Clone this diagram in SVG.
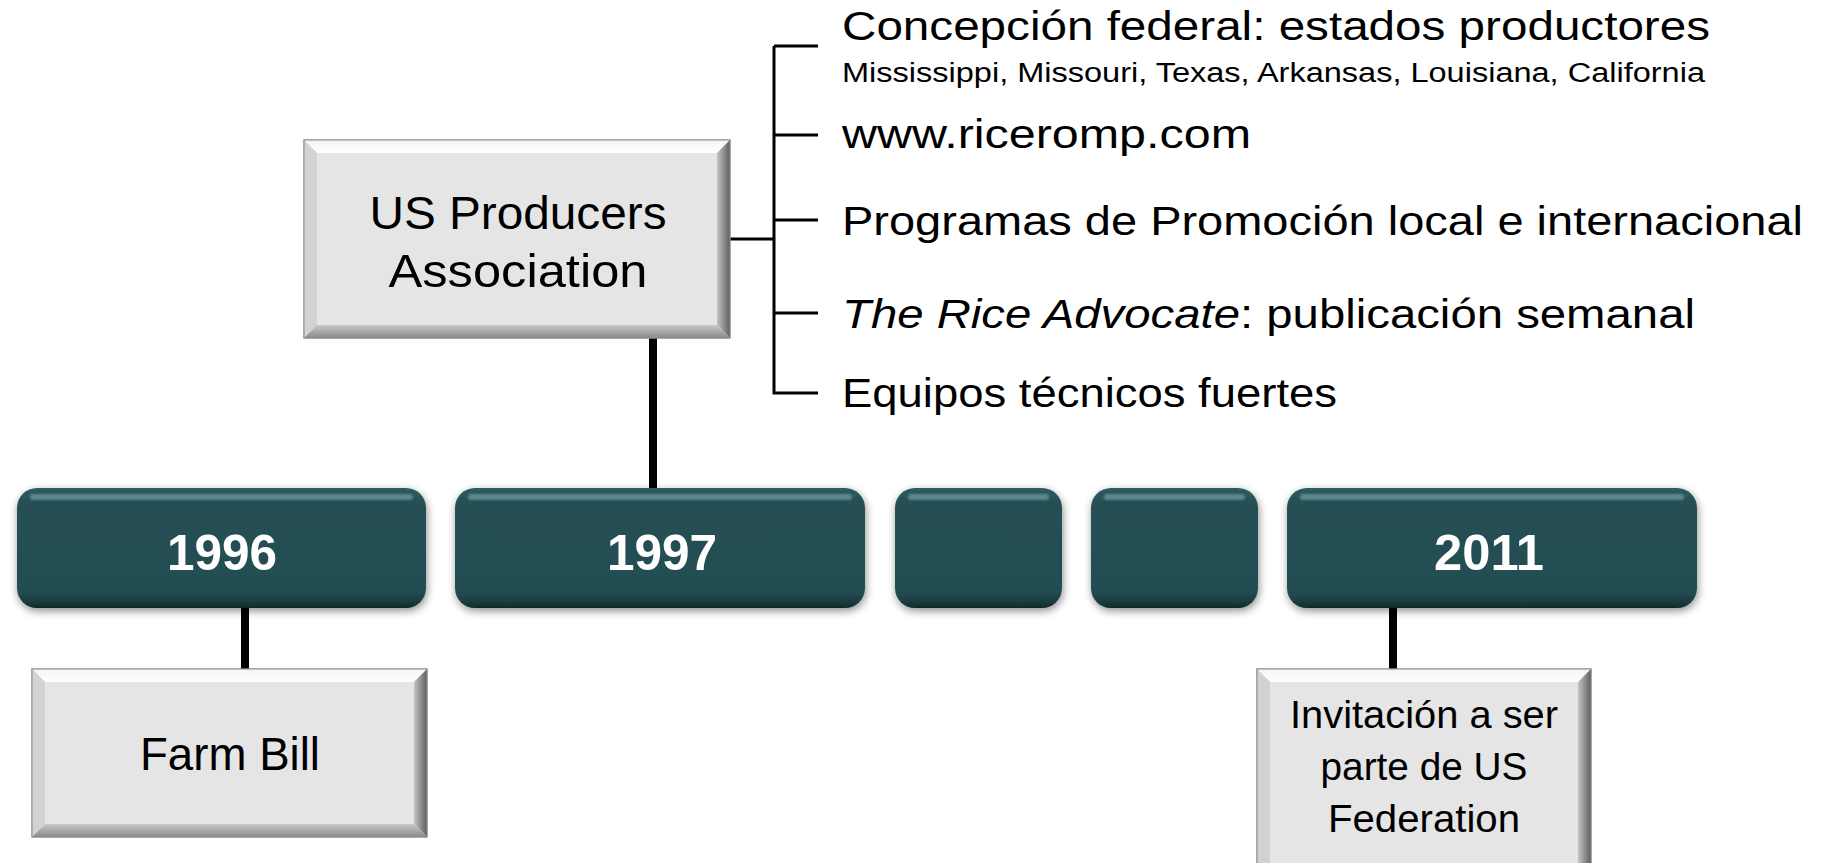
<svg xmlns="http://www.w3.org/2000/svg" width="1825" height="863" viewBox="0 0 1825 863">
<defs>
<style>
.t{font-family:"Liberation Sans",Arial,sans-serif;fill:#000}
.big{font-size:40px}
.small{font-size:27px}
.gb{font-size:47px}
.yr{font-family:"Liberation Sans",Arial,sans-serif;font-weight:bold;font-size:50px;fill:#fff;text-anchor:middle}
.ctr{text-anchor:middle}
.teal{fill:url(#tealG)}
.hl{fill:#6a9ca1;opacity:0.75}
.base{fill:#e5e5e5;stroke:#8c8c8c;stroke-width:1}
.btop{fill:url(#topG)}
.bleft{fill:#d2d2d2}
.bright{fill:url(#rightG)}
.bbot{fill:url(#botG)}
.conn{stroke:#000;stroke-width:8;fill:none}
.br{stroke:#000;stroke-width:3;fill:none}
</style>
<linearGradient id="tealG" x1="0" y1="0" x2="0" y2="1">
<stop offset="0" stop-color="#2f5c61"/>
<stop offset="0.12" stop-color="#254f54"/>
<stop offset="0.86" stop-color="#244e53"/>
<stop offset="0.95" stop-color="#1a3c40"/>
<stop offset="1" stop-color="#0f2729"/>
</linearGradient>
<linearGradient id="topG" x1="0" y1="0" x2="0" y2="1">
<stop offset="0" stop-color="#f4f4f4"/>
<stop offset="1" stop-color="#ffffff"/>
</linearGradient>
<linearGradient id="rightG" x1="0" y1="0" x2="1" y2="0">
<stop offset="0" stop-color="#c4c4c4"/>
<stop offset="1" stop-color="#5e5e5e"/>
</linearGradient>
<linearGradient id="botG" x1="0" y1="0" x2="0" y2="1">
<stop offset="0" stop-color="#c8c8c8"/>
<stop offset="1" stop-color="#8a8a8a"/>
</linearGradient>
<filter id="sh" x="-10%" y="-25%" width="120%" height="160%">
<feGaussianBlur in="SourceAlpha" stdDeviation="4"/>
<feOffset dx="1" dy="3" result="o"/>
<feComponentTransfer><feFuncA type="linear" slope="0.45"/></feComponentTransfer>
<feMerge><feMergeNode/><feMergeNode in="SourceGraphic"/></feMerge>
</filter>
<filter id="blur1"><feGaussianBlur stdDeviation="1.2"/></filter>
</defs>
<rect width="1825" height="863" fill="#fff"/>

<g id="connectors">
<line class="conn" x1="653" y1="338" x2="653" y2="490"/>
<line class="conn" x1="245" y1="606" x2="245" y2="670"/>
<line class="conn" x1="1393" y1="606" x2="1393" y2="670"/>
<path class="br" d="M730 239 H774 M774 46 V393 H818 M774 46 H818 M774 135 H818 M774 220 H818 M774 313 H818"/>
</g>

<g id="node-usp">
<rect class="base" x="304" y="140" width="426" height="198"/>
<polygon class="btop" points="304,140 730,140 717,153 317,153"/>
<polygon class="bleft" points="304,140 317,153 317,325 304,338"/>
<polygon class="bright" points="730,140 730,338 717,325 717,153"/>
<polygon class="bbot" points="304,338 730,338 717,325 317,325"/>
<rect x="304" y="140" width="426" height="198" fill="none" stroke="#8c8c8c" stroke-width="1"/>
<text class="t gb ctr" x="518" y="229" textLength="297" lengthAdjust="spacingAndGlyphs">US Producers</text>
<text class="t gb ctr" x="518" y="287" textLength="259" lengthAdjust="spacingAndGlyphs">Association</text>
</g>

<g id="node-items">
<text class="t big" x="842" y="40" textLength="868" lengthAdjust="spacingAndGlyphs">Concepción federal: estados productores</text>
<text class="t small" x="842" y="82" textLength="863" lengthAdjust="spacingAndGlyphs">Mississippi, Missouri, Texas, Arkansas, Louisiana, California</text>
<text class="t big" x="842" y="148" textLength="409" lengthAdjust="spacingAndGlyphs">www.riceromp.com</text>
<text class="t big" x="842" y="235" textLength="961" lengthAdjust="spacingAndGlyphs">Programas de Promoción local e internacional</text>
<text class="t big" x="842" y="328" textLength="853" lengthAdjust="spacingAndGlyphs"><tspan font-style="italic">The Rice Advocate</tspan>: publicación semanal</text>
<text class="t big" x="842" y="407" textLength="495" lengthAdjust="spacingAndGlyphs">Equipos técnicos fuertes</text>
</g>

<g id="node-1996" filter="url(#sh)">
<rect class="teal" x="17" y="488" width="409" height="120" rx="20"/>
<rect class="hl" x="30" y="494" width="383" height="6" rx="3" filter="url(#blur1)"/>
<text class="yr" x="222" y="570" textLength="110" lengthAdjust="spacingAndGlyphs">1996</text>
</g>
<g id="node-1997" filter="url(#sh)">
<rect class="teal" x="455" y="488" width="410" height="120" rx="20"/>
<rect class="hl" x="468" y="494" width="384" height="6" rx="3" filter="url(#blur1)"/>
<text class="yr" x="662" y="570" textLength="110" lengthAdjust="spacingAndGlyphs">1997</text>
</g>
<g id="node-blank1" filter="url(#sh)">
<rect class="teal" x="895" y="488" width="167" height="120" rx="20"/>
<rect class="hl" x="908" y="494" width="141" height="6" rx="3" filter="url(#blur1)"/>
</g>
<g id="node-blank2" filter="url(#sh)">
<rect class="teal" x="1091" y="488" width="167" height="120" rx="20"/>
<rect class="hl" x="1104" y="494" width="141" height="6" rx="3" filter="url(#blur1)"/>
</g>
<g id="node-2011" filter="url(#sh)">
<rect class="teal" x="1287" y="488" width="410" height="120" rx="20"/>
<rect class="hl" x="1300" y="494" width="384" height="6" rx="3" filter="url(#blur1)"/>
<text class="yr" x="1489" y="570" textLength="110" lengthAdjust="spacingAndGlyphs">2011</text>
</g>

<g id="node-farmbill">
<rect class="base" x="32" y="669" width="395" height="168"/>
<polygon class="btop" points="32,669 427,669 414,682 45,682"/>
<polygon class="bleft" points="32,669 45,682 45,824 32,837"/>
<polygon class="bright" points="427,669 427,837 414,824 414,682"/>
<polygon class="bbot" points="32,837 427,837 414,824 45,824"/>
<rect x="32" y="669" width="395" height="168" fill="none" stroke="#8c8c8c" stroke-width="1"/>
<text class="t ctr" font-size="46" x="230" y="770" textLength="180" lengthAdjust="spacingAndGlyphs">Farm Bill</text>
</g>

<g id="node-invitacion">
<rect class="base" x="1257" y="669" width="334" height="220"/>
<polygon class="btop" points="1257,669 1591,669 1578,682 1270,682"/>
<polygon class="bleft" points="1257,669 1270,682 1270,889 1257,889"/>
<polygon class="bright" points="1591,669 1591,889 1578,889 1578,682"/>
<rect x="1257" y="669" width="334" height="220" fill="none" stroke="#8c8c8c" stroke-width="1"/>
<text class="t ctr" font-size="38" x="1424" y="728" textLength="268" lengthAdjust="spacingAndGlyphs">Invitación a ser</text>
<text class="t ctr" font-size="38" x="1424" y="780" textLength="207" lengthAdjust="spacingAndGlyphs">parte de US</text>
<text class="t ctr" font-size="38" x="1424" y="832" textLength="192" lengthAdjust="spacingAndGlyphs">Federation</text>
</g>
</svg>
